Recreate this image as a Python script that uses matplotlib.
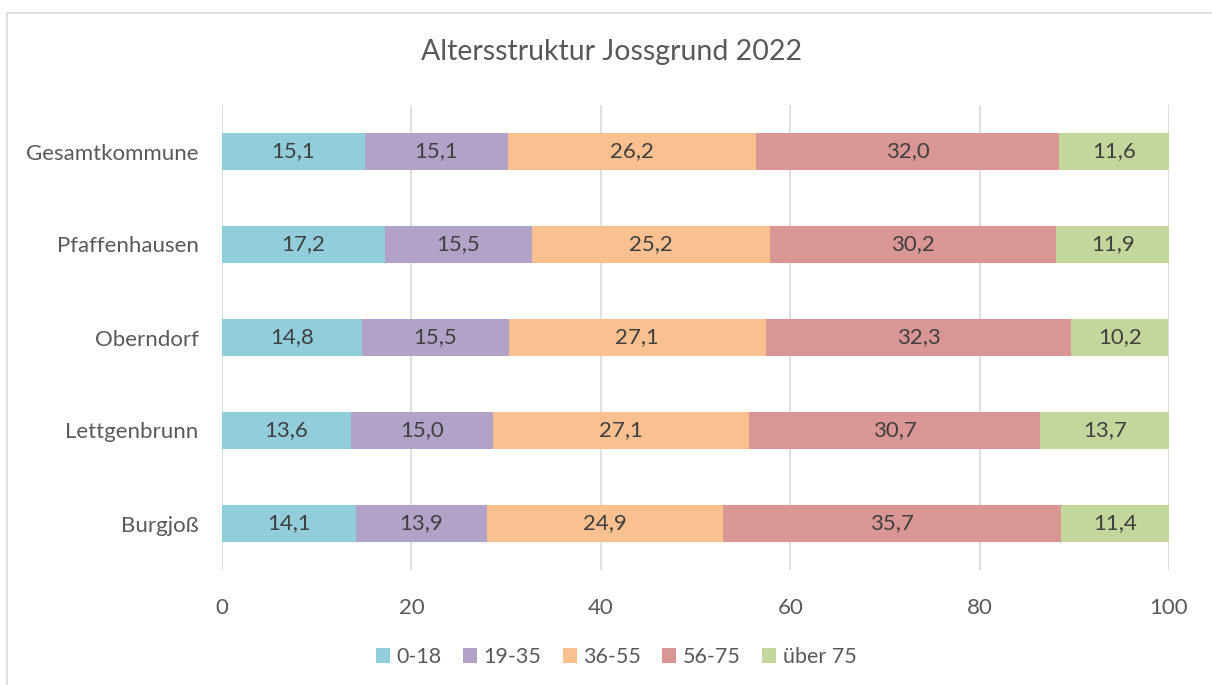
import numpy as np
import matplotlib.pyplot as plt
from matplotlib.patches import Rectangle

# Altersstruktur Jossgrund 2022 - Anteile in Prozent

orte = ["Burgjoß", "Lettgenbrunn", "Oberndorf", "Pfaffenhausen", "Gesamtkommune"]
gruppen = ["0-18", "19-35", "36-55", "56-75", "über 75"]

g_0_18 = [14.1, 13.6, 14.8, 17.2, 15.1]
g_19_35 = [13.9, 15.0, 15.5, 15.5, 15.1]
g_36_55 = [24.9, 27.1, 27.1, 25.2, 26.2]
g_56_75 = [35.7, 30.7, 32.3, 30.2, 32.0]
g_ueber_75 = [11.4, 13.7, 10.2, 11.9, 11.6]

farben = ["#92CDDC", "#B2A2C7", "#FAC090", "#D99694", "#C3D69B"]

plt.rcParams["font.family"] = ["Lato", "DejaVu Sans"]

fig = plt.figure(figsize=(12.12, 6.85), dpi=100)
ax = fig.add_axes([222 / 1212, 1 - 570 / 685, (1169 - 222) / 1212, 465 / 685])

# chart border like in excel
fig.patches.append(Rectangle((7 / 1212, -0.1), 1.2, 1 - 13 / 685 + 0.1,
                             transform=fig.transFigure, fill=False,
                             edgecolor="#D9D9D9", linewidth=1.2))

y = np.arange(len(orte))
links = np.zeros(len(orte))
for werte, farbe, name in zip([g_0_18, g_19_35, g_36_55, g_56_75, g_ueber_75], farben, gruppen):
    werte = np.array(werte)
    ax.barh(y, werte, left=links, height=0.4, color=farbe, label=name, zorder=3)
    for yi, l, w in zip(y, links, werte):
        ax.text(l + w / 2, yi, f"{w:.1f}".replace(".", ","), ha="center", va="center",
                fontsize=16, color="#404040", zorder=4)
    links = links + werte

ax.set_xlim(0, 100)
ax.set_ylim(-0.5, 4.5)
ax.set_xticks(np.arange(0, 101, 20))
ax.set_yticks(y)
ax.set_yticklabels(orte)
ax.tick_params(axis="both", length=0, labelsize=16, labelcolor="#595959")
ax.tick_params(axis="x", pad=20)
ax.tick_params(axis="y", pad=17)
ax.grid(axis="x", color="#D9D9D9", linewidth=1.2, zorder=0)
for s in ax.spines.values():
    s.set_visible(False)

fig.text(612 / 1212, 1 - 52 / 685, "Altersstruktur Jossgrund 2022", ha="center", va="center",
         fontsize=20.5, color="#595959")

fig.legend(loc="center", bbox_to_anchor=(616 / 1212, 1 - 657 / 685), ncol=5, frameon=False,
           fontsize=15.5, labelcolor="#595959", handlelength=0.65, handleheight=0.65,
           handletextpad=0.3, columnspacing=1.0)

fig.savefig("out.png", dpi=100)
